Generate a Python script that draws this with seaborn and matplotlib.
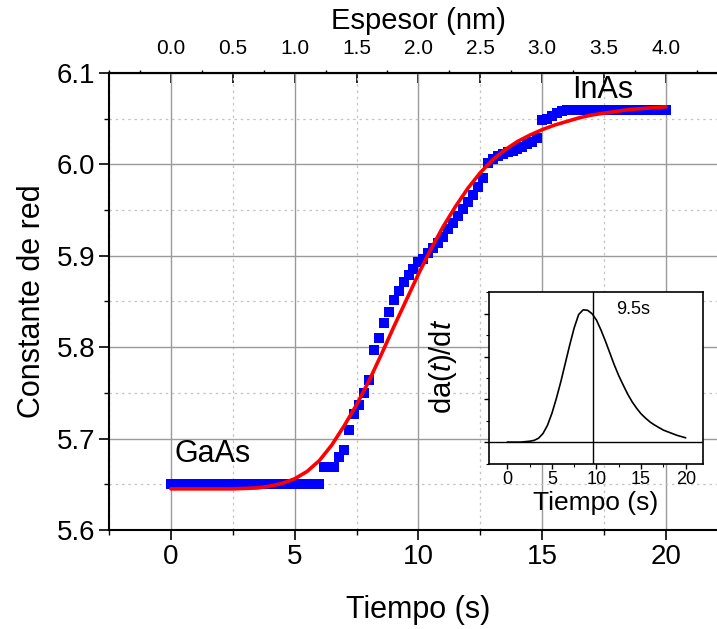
import numpy as np
import pandas as pd
import seaborn as sns
import matplotlib
matplotlib.use("Agg")
import matplotlib.pyplot as plt
from matplotlib.ticker import MultipleLocator, FixedLocator, NullFormatter

# ---------------- data ----------------
time_s = np.linspace(0, 20, 101)
lattice = [5.650] * 31 + [
    5.669, 5.669, 5.669,
    5.680, 5.688, 5.709, 5.727, 5.737, 5.750, 5.764,
    5.797, 5.810, 5.827, 5.838, 5.852, 5.862, 5.871, 5.879, 5.886, 5.893,
    5.897, 5.903, 5.909, 5.914, 5.921, 5.929, 5.936, 5.943, 5.951, 5.959,
    5.967, 5.975, 5.985, 6.002, 6.006, 6.009, 6.011, 6.013, 6.015, 6.017,
    6.019, 6.022, 6.025, 6.029, 6.048, 6.050, 6.053, 6.056, 6.058, 6.059,
] + [6.059] * 20

fit_t = np.linspace(0, 20, 41)
fit_a = [5.645, 5.645, 5.645, 5.645, 5.645, 5.645, 5.6455, 5.646, 5.648, 5.651,
         5.656, 5.664, 5.676, 5.693, 5.714, 5.737, 5.763, 5.792, 5.822, 5.851,
         5.880, 5.907, 5.932, 5.954, 5.974, 5.991, 6.005, 6.016, 6.025, 6.032,
         6.038, 6.043, 6.047, 6.051, 6.054, 6.056, 6.058, 6.060, 6.061, 6.062,
         6.063]

deriv_t = np.linspace(0, 20, 41)
deriv_v = [0.0, 0.0, 0.0, 0.0, 0.01, 0.02, 0.04, 0.09, 0.20, 0.39,
           0.67, 1.02, 1.41, 1.84, 2.27, 2.67, 2.98, 3.09, 3.08, 3.00,
           2.85, 2.62, 2.36, 2.08, 1.80, 1.55, 1.33, 1.12, 0.94, 0.79,
           0.66, 0.56, 0.47, 0.40, 0.34, 0.28, 0.24, 0.20, 0.16, 0.13,
           0.10]

peak_time = 9.6
peak_label = "9.5s"
label_gaas = "GaAs"
label_inas = "InAs"

bottom_ticks = [0, 5, 10, 15, 20]
top_ticks_nm = [0.0, 0.5, 1.0, 1.5, 2.0, 2.5, 3.0, 3.5, 4.0]
y_ticks = [5.6, 5.7, 5.8, 5.9, 6.0, 6.1]

df_data = pd.DataFrame({"t": time_s, "a": lattice})
df_fit = pd.DataFrame({"t": fit_t, "a": fit_a})
df_der = pd.DataFrame({"t": deriv_t, "d": deriv_v})

# ---------------- style ----------------
sns.set_theme(style="white")
plt.rcParams["font.family"] = ["Liberation Sans", "DejaVu Sans"]
plt.rcParams["mathtext.fontset"] = "custom"
plt.rcParams["mathtext.rm"] = "Liberation Sans"
plt.rcParams["mathtext.it"] = "Liberation Sans:italic"

fig = plt.figure(figsize=(7.17, 6.29), dpi=100)
ax = fig.add_axes([0.152, 0.1574, 0.8632, 0.7266])

ax.grid(False)
sns.scatterplot(data=df_data, x="t", y="a", marker="s", s=46, color="#0000ff",
                linewidth=0, ax=ax, zorder=3)
sns.lineplot(data=df_fit, x="t", y="a", color="#ff0000", linewidth=2.6,
             estimator=None, ax=ax, zorder=4)

ax.set_xlim(-2.5, 22.5)
ax.set_ylim(5.6, 6.1)
ax.xaxis.set_major_locator(FixedLocator(bottom_ticks))
ax.xaxis.set_minor_locator(MultipleLocator(2.5))
ax.yaxis.set_major_locator(FixedLocator(y_ticks))
ax.yaxis.set_minor_locator(MultipleLocator(0.05))
ax.set_yticklabels([f"{v:.1f}" for v in y_ticks])
ax.set_xticklabels([str(v) for v in bottom_ticks])

ax.grid(True, which="major", color="#9a9a9a", linewidth=1.0, linestyle="-", zorder=0)
ax.grid(True, which="minor", color="#c4c4c4", linewidth=0.9, linestyle=(0, (2, 3)), zorder=0)
ax.set_axisbelow(True)

for side in ["left", "bottom", "top"]:
    ax.spines[side].set_color("black")
    ax.spines[side].set_linewidth(1.5)
ax.spines["right"].set_visible(False)

ax.tick_params(axis="both", which="major", direction="out", length=7, width=1.2,
               color="black", labelsize=20, pad=3, labelcolor="black")
ax.tick_params(axis="both", which="minor", direction="out", length=3.5, width=1.0,
               color="black")
ax.tick_params(axis="x", which="both", bottom=True, top=False)
ax.tick_params(axis="y", which="both", left=True, right=False)

ax.set_xlabel("Tiempo (s)", fontsize=22, labelpad=18, color="black")
ax.set_ylabel("Constante de red", fontsize=22, labelpad=7, color="black")

ax.text(0.15, 5.683, label_gaas, fontsize=22, ha="left", va="center", color="black")
ax.text(16.2, 6.081, label_inas, fontsize=22, ha="left", va="center", color="black")

# top axis: thickness
sec = ax.secondary_xaxis("top", functions=(lambda t: t / 5.0, lambda n: n * 5.0))
sec.xaxis.set_major_locator(FixedLocator(top_ticks_nm))
sec.xaxis.set_minor_locator(MultipleLocator(0.25))
sec.set_xticklabels([f"{v:.1f}" for v in top_ticks_nm])
sec.tick_params(axis="x", which="major", direction="in", length=7, width=1.2,
                labelsize=15, pad=11, color="black", labelcolor="black")
sec.tick_params(axis="x", which="minor", direction="out", length=2, width=1.0,
                color="black")
sec.spines["top"].set_linewidth(1.5)
sec.set_xlabel("Espesor (nm)", fontsize=21, labelpad=7, color="black")

# ---------------- inset ----------------
ins = fig.add_axes([0.682, 0.2631, 0.298, 0.2722])
ins.set_facecolor("white")
ins.grid(False)
sns.lineplot(data=df_der, x="t", y="d", color="black", linewidth=1.2,
             estimator=None, ax=ins)
ins.axhline(0, color="black", linewidth=1.0)
ins.axvline(peak_time, color="black", linewidth=1.0)
ins.text(12.2, 3.1, peak_label, fontsize=13, ha="left", va="center", color="black")
ins.set_xlim(-2.05, 21.9)
ins.set_ylim(-0.5, 3.5)
ins.xaxis.set_major_locator(FixedLocator(bottom_ticks))
ins.xaxis.set_minor_locator(MultipleLocator(2.5))
ins.set_xticklabels([str(v) for v in bottom_ticks])
ins.yaxis.set_major_locator(FixedLocator([0, 1, 2, 3]))
ins.yaxis.set_minor_locator(MultipleLocator(0.5))
ins.yaxis.set_major_formatter(NullFormatter())
ins.tick_params(axis="both", which="major", direction="out", length=3.5, width=1.0,
                labelsize=13, pad=2, color="black", labelcolor="black",
                bottom=True, left=True)
ins.tick_params(axis="both", which="minor", direction="out", length=2, width=0.8,
                color="black", bottom=True, left=True)
for s in ins.spines.values():
    s.set_color("black")
    s.set_linewidth(1.2)
ins.set_xlabel("Tiempo (s)", fontsize=19, labelpad=2, color="black")
ins.set_ylabel(r"da($t$)/d$t$", fontsize=21, labelpad=12, color="black")
ins.yaxis.set_label_coords(-0.14, 0.57)

fig.savefig("out.png", dpi=100)
